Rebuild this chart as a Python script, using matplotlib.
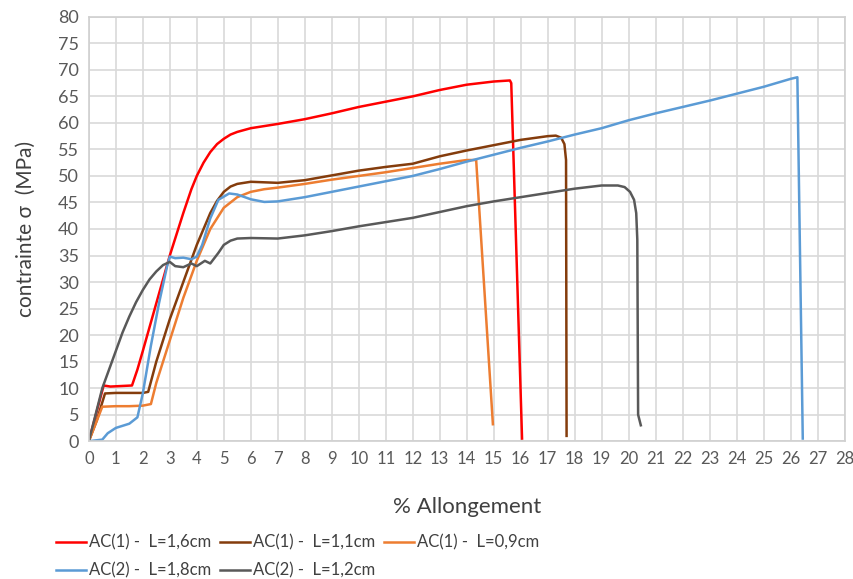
import matplotlib
matplotlib.use("Agg")
import matplotlib.pyplot as plt

plt.rcParams['font.family'] = ['Lato', 'DejaVu Sans']

# % Allongement / contrainte (MPa)
x_red = [0, 0.55, 0.8, 1.2, 1.6, 1.8, 2, 2.5, 3, 3.5, 3.8, 4, 4.25, 4.5, 4.75, 5, 5.25, 5.5, 6, 7, 8, 9, 10, 11, 12, 13, 14, 15, 15.6, 15.65, 16.05]
y_red = [0, 10.5, 10.3, 10.4, 10.5, 13.5, 17, 26, 35, 43, 47.5, 50, 52.5, 54.5, 56, 57, 57.8, 58.3, 59, 59.8, 60.7, 61.8, 63, 64, 65, 66.2, 67.2, 67.8, 68, 67.5, 0.5]

x_brown = [0, 0.3, 0.6, 1, 1.5, 2, 2.2, 2.5, 3, 3.5, 4, 4.5, 4.75, 5, 5.25, 5.5, 6, 7, 8, 9, 10, 11, 12, 13, 14, 15, 16, 17, 17.3, 17.5, 17.62, 17.68, 17.7]
y_brown = [0, 4, 9, 9.1, 9.1, 9.1, 9.3, 15, 23, 30, 37, 43, 45.3, 47, 48, 48.5, 48.9, 48.7, 49.2, 50.1, 51, 51.7, 52.3, 53.7, 54.8, 55.8, 56.8, 57.5, 57.6, 57.2, 56, 53, 1]

x_orange = [0, 0.5, 1, 1.5, 2, 2.3, 2.5, 3, 3.5, 4, 4.5, 5, 5.5, 6, 6.5, 7, 8, 9, 10, 11, 12, 13, 14, 14.35, 14.97]
y_orange = [0, 6.5, 6.6, 6.6, 6.7, 7, 11, 19, 27, 34, 40, 44, 46, 47, 47.5, 47.8, 48.5, 49.3, 50, 50.7, 51.5, 52.3, 53, 53, 3.2]

x_blue = [0, 0.5, 0.7, 1, 1.5, 1.8, 2, 2.3, 2.6, 2.9, 3, 3.2, 3.5, 3.8, 4, 4.2, 4.5, 4.8, 5.2, 5.5, 6, 6.5, 7, 8, 9, 10, 11, 12, 13, 14, 15, 16, 17, 18, 19, 20, 21, 22, 23, 24, 25, 26, 26.25, 26.45]
y_blue = [0, 0.3, 1.5, 2.5, 3.3, 4.5, 9, 18, 26, 33, 34.8, 34.5, 34.6, 34.3, 34.8, 37, 42, 45.5, 46.7, 46.5, 45.6, 45.1, 45.2, 46, 47, 48, 49, 50, 51.3, 52.7, 54, 55.3, 56.5, 57.8, 59, 60.5, 61.8, 63, 64.2, 65.5, 66.8, 68.3, 68.6, 0.5]

x_gray = [0, 0.25, 0.5, 0.75, 1, 1.25, 1.5, 1.75, 2, 2.25, 2.5, 2.75, 3, 3.2, 3.5, 3.8, 4, 4.3, 4.5, 4.8, 5, 5.25, 5.5, 6, 7, 8, 9, 10, 11, 12, 13, 14, 15, 16, 17, 18, 19, 19.6, 19.85, 20.05, 20.2, 20.28, 20.32, 20.35, 20.45]
y_gray = [0, 5, 10, 13.5, 17, 20.5, 23.5, 26.2, 28.5, 30.5, 32, 33.2, 33.8, 33, 32.8, 33.5, 33, 34, 33.5, 35.5, 37, 37.8, 38.2, 38.3, 38.2, 38.8, 39.6, 40.5, 41.3, 42.1, 43.2, 44.3, 45.2, 46, 46.8, 47.6, 48.2, 48.2, 47.9, 47, 45.5, 43, 38, 5, 3]

labels = ["AC(1) -  L=1,6cm", "AC(1) -  L=1,1cm", "AC(1) -  L=0,9cm",
          "AC(2) -  L=1,8cm", "AC(2) -  L=1,2cm"]
colors = ["#ff0000", "#843c0c", "#ed7d31", "#5b9bd5", "#595959"]

fig = plt.figure(figsize=(8.54, 5.79), dpi=100)
ax = fig.add_axes([0.104, 0.238, 0.885, 0.733])

series = [(x_red, y_red), (x_brown, y_brown), (x_orange, y_orange),
          (x_blue, y_blue), (x_gray, y_gray)]
handles = []
for (xs, ys), lab, c in zip(series, labels, colors):
    h, = ax.plot(xs, ys, color=c, lw=1.8, label=lab)
    handles.append(h)

ax.set_xlim(0, 28)
ax.set_ylim(0, 80)
ax.set_xticks(range(0, 29))
ax.set_yticks(range(0, 81, 5))
ax.grid(True, color="#d9d9d9", lw=1.2)
ax.set_axisbelow(True)
for s in ax.spines.values():
    s.set_color("#d0d0d0")
    s.set_linewidth(1.2)
ax.tick_params(length=0, colors="#595959", labelsize=12, pad=7)
ax.tick_params(axis="y", labelsize=13)

ax.set_xlabel("% Allongement", fontsize=16, color="#404040", labelpad=22)
ax.set_ylabel("contrainte σ  (MPa)", fontsize=15, color="#404040", labelpad=16)

# row-major order in the picture -> reorder for column-major legend fill
order = [0, 3, 1, 4, 2]
fig.legend([handles[i] for i in order], [labels[i] for i in order],
           ncol=3, frameon=False, loc="upper left", bbox_to_anchor=(0.066, 0.077),
           fontsize=12, labelcolor="#404040", handlelength=1.8, handletextpad=0.15,
           columnspacing=0.55, borderaxespad=0, borderpad=0, labelspacing=0.72)

fig.savefig("out.png", dpi=100)
